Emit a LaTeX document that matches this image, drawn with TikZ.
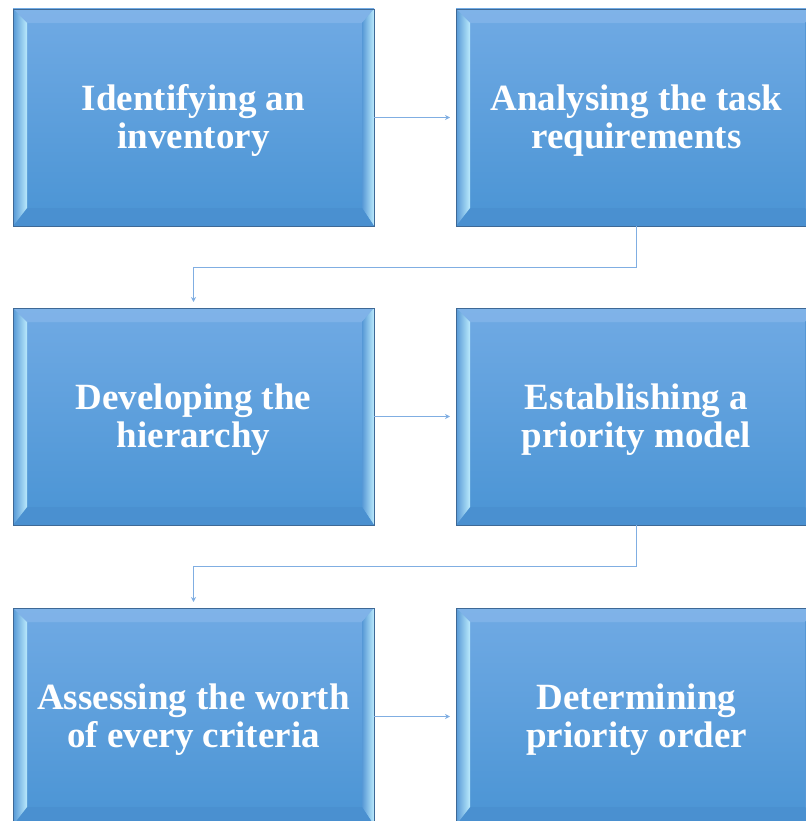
\documentclass[tikz,border=0pt]{standalone}
\usepackage{fontspec}
\setmainfont{Liberation Serif}
\usetikzlibrary{positioning,arrows.meta}

\definecolor{boxtop}{RGB}{112,170,228}
\definecolor{boxbot}{RGB}{74,148,212}
\definecolor{boxedge}{RGB}{62,105,150}
\definecolor{facetmid}{RGB}{86,152,214}
\definecolor{facetlight}{RGB}{186,234,252}
\definecolor{facettop}{RGB}{116,172,230}
\definecolor{facetbot}{RGB}{74,144,208}
\definecolor{linkblue}{RGB}{128,174,226}

\begin{document}
\begin{tikzpicture}[x=1pt, y=-1pt,
  stagebox/.style={rectangle, draw=boxedge, line width=0.8pt, top color=boxtop, bottom color=boxbot,
              minimum width=361pt, minimum height=217pt, inner sep=0pt, outer sep=0pt,
              align=center, text=white, font=\fontsize{37}{38}\selectfont\bfseries,
              text height=69.5pt,
              path picture={
                % bevelled rim: top, right, bottom, left facets
                \shade[top color=facettop!92!white, bottom color=facettop]
                  (path picture bounding box.north west) -- (path picture bounding box.north east)
                  -- ([shift={(-12pt,-14pt)}]path picture bounding box.north east)
                  -- ([shift={(14pt,-14pt)}]path picture bounding box.north west) -- cycle;
                \shade[left color=facetmid, right color=facetlight]
                  (path picture bounding box.north east) -- (path picture bounding box.south east)
                  -- ([shift={(-12pt,18pt)}]path picture bounding box.south east)
                  -- ([shift={(-12pt,-14pt)}]path picture bounding box.north east) -- cycle;
                \fill[facetbot]
                  (path picture bounding box.south west) -- (path picture bounding box.south east)
                  -- ([shift={(-12pt,18pt)}]path picture bounding box.south east)
                  -- ([shift={(14pt,18pt)}]path picture bounding box.south west) -- cycle;
                \shade[left color=facetmid, right color=facetlight]
                  (path picture bounding box.south west) -- (path picture bounding box.north west)
                  -- ([shift={(14pt,-14pt)}]path picture bounding box.north west)
                  -- ([shift={(14pt,18pt)}]path picture bounding box.south west) -- cycle;
              }},
  link/.style={draw=linkblue, line width=1.2pt, -{Stealth[length=5pt,width=5pt]}, shorten >=6pt}
]
\useasboundingbox (0,0) rectangle (805,821);

\node[stagebox] (invent)  at (193.5,117.5) {Identifying an\\inventory};
\node[stagebox] (analyse) at (636.5,117.5) {Analysing the task\\requirements};
\node[stagebox] (hier)    at (193.5,416.5) {Developing the\\hierarchy};
\node[stagebox] (model)   at (636.5,416.5) {Establishing a\\priority model};
\node[stagebox] (worth)   at (193.5,716.5) {Assessing the worth\\of every criteria};
\node[stagebox] (order)   at (636.5,716.5) {Determining\\priority order};

\draw[link] (invent) -- (analyse);
\draw[link] (analyse.south) -- ++(0,41.5) -| (hier.north);
\draw[link] (hier) -- (model);
\draw[link] (model.south) -- ++(0,41.5) -| (worth.north);
\draw[link] (worth) -- (order);
\end{tikzpicture}
\end{document}
